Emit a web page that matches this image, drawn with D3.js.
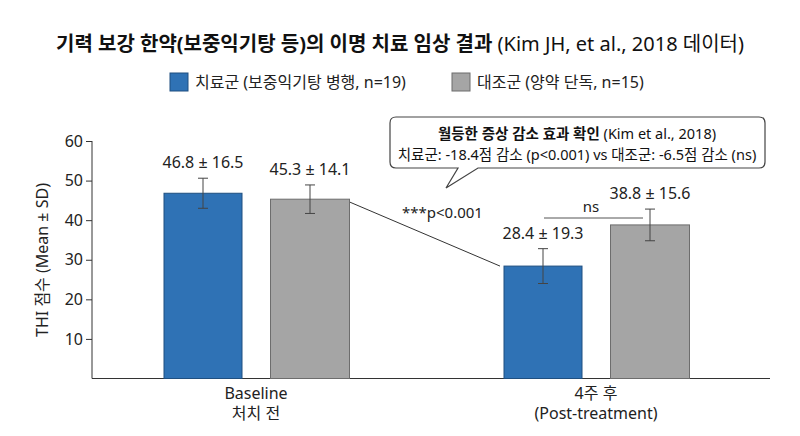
<!DOCTYPE html><html><head><meta charset="utf-8"><script src="https://cdn.jsdelivr.net/npm/d3@7"></script>
<style>body{margin:0;background:#fff}text{font-family:"Noto Sans","Noto Sans CJK KR",sans-serif}</style></head><body><svg id="c" width="800" height="436"></svg>
<script>
const groups=["Baseline","4주 후"];
const groupSub=["처치 전","(Post-treatment)"];
const series=["치료군 (보중익기탕 병행, n=19)","대조군 (양약 단독, n=15)"];
const means=[[46.8,45.3],[28.4,38.8]];
const sds=[[16.5,14.1],[19.3,15.6]];
const errs=[[3.8,3.6],[4.4,4.0]];
const yTicks=[10,20,30,40,50,60];
const colors=["#2f72b5","#a5a5a5"];
const strokes=["#1f4f80","#6d6d6d"];
const svg=d3.select("#c");
const y=d3.scaleLinear().domain([0,60]).range([378.5,141]);
const x0=d3.scaleOrdinal().domain(groups).range([256,596]);
const offs=[-53,54], bw=[78,79];
svg.append("text").attr("x",400).attr("y",51).attr("text-anchor","middle").attr("font-size",20).attr("font-weight","bold").attr("fill","#111")
 .text("기력 보강 한약(보중익기탕 등)의 이명 치료 임상 결과 ").append("tspan").attr("font-weight","normal").text("(Kim JH, et al., 2018 데이터)");
[[170,0],[452,1]].forEach(([lx,i])=>{svg.append("rect").attr("x",lx).attr("y",73).attr("width",18).attr("height",18).attr("fill",colors[i]).attr("stroke",strokes[i]);
 svg.append("text").attr("x",lx+25).attr("y",88).attr("font-size",16).attr("fill","#222").text(series[i]);});
const ax=svg.append("g").attr("transform","translate(92,0)").call(d3.axisLeft(y).tickValues(yTicks).tickSize(6).tickSizeOuter(0));
ax.select(".domain").attr("d","M0,141V378.5");
ax.selectAll("text").attr("font-size",16).attr("fill","#222");
ax.selectAll("line,path").attr("stroke","#333");
svg.append("line").attr("x1",92).attr("x2",770).attr("y1",378.5).attr("y2",378.5).attr("stroke","#333");
svg.append("text").attr("transform","translate(48,260) rotate(-90)").attr("text-anchor","middle").attr("font-size",16).attr("fill","#222").text("THI 점수 (Mean ± SD)");
groups.forEach((g,gi)=>{
 svg.append("text").attr("x",x0(g)).attr("y",399).attr("text-anchor","middle").attr("font-size",16).attr("fill","#222").text(g);
 svg.append("text").attr("x",x0(g)).attr("y",419).attr("text-anchor","middle").attr("font-size",16).attr("fill","#222").text(groupSub[gi]);
 [0,1].forEach(si=>{
  const cx=x0(g)+offs[si], w=bw[si];
  const m=means[gi][si], e=errs[gi][si];
  svg.append("rect").attr("x",cx-w/2).attr("y",y(m)).attr("width",w).attr("height",y(0)-y(m)).attr("fill",colors[si]).attr("stroke",strokes[si]);
  svg.append("line").attr("x1",cx).attr("x2",cx).attr("y1",y(m+e)).attr("y2",y(m-e)).attr("stroke","#444");
  [m+e,m-e].forEach(v=>svg.append("line").attr("x1",cx-5).attr("x2",cx+5).attr("y1",y(v)).attr("y2",y(v)).attr("stroke","#444"));
  svg.append("text").attr("x",cx).attr("y",y(m+e)-10).attr("text-anchor","middle").attr("font-size",16).attr("fill","#222").text(`${m} ± ${sds[gi][si]}`);
 });
});
svg.append("line").attr("x1",350).attr("y1",y(45.3)+3).attr("x2",500).attr("y2",y(28.4)).attr("stroke","#333");
svg.append("text").attr("x",402).attr("y",218).attr("font-size",15).attr("fill","#222").text("***p<0.001");
svg.append("line").attr("x1",544).attr("x2",643).attr("y1",218).attr("y2",218).attr("stroke","#555");
svg.append("text").attr("x",591).attr("y",212).attr("text-anchor","middle").attr("font-size",15).attr("fill","#222").text("ns");
svg.append("path").attr("d","M396,117H759Q765,117 765,123V162Q765,168 759,168H478L446,188L458,168H396Q390,168 390,162V123Q390,117 396,117Z").attr("fill","#fff").attr("stroke","#444").attr("stroke-width",1.2);
svg.append("text").attr("x",577).attr("y",139).attr("text-anchor","middle").attr("font-size",14.5).attr("fill","#111").attr("font-weight","bold").text("월등한 증상 감소 효과 확인 ").append("tspan").attr("font-weight","normal").text("(Kim et al., 2018)");
svg.append("text").attr("x",577).attr("y",160).attr("text-anchor","middle").attr("font-size",14.5).attr("fill","#111").text("치료군: -18.4점 감소 (p<0.001) vs 대조군: -6.5점 감소 (ns)");
</script></body></html>
